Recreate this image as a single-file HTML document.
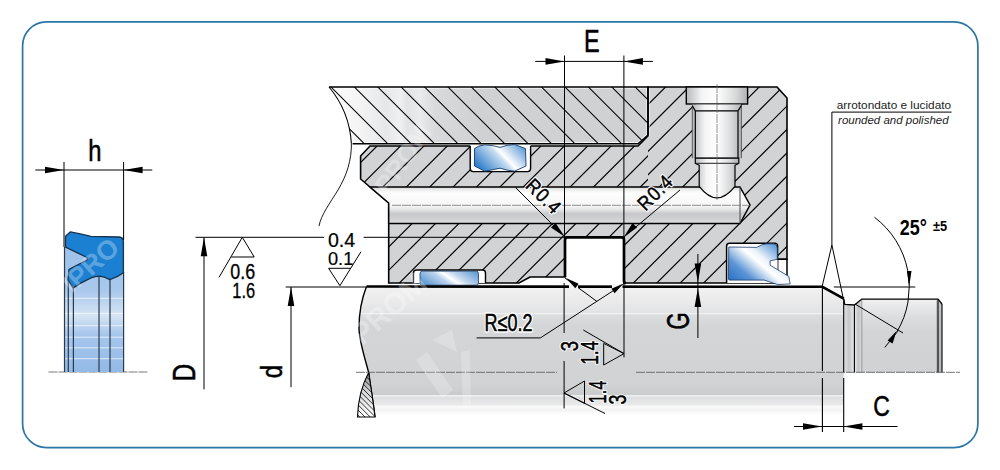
<!DOCTYPE html><html><head><meta charset="utf-8"><style>html,body{margin:0;padding:0;background:#fff;width:1000px;height:470px;overflow:hidden}svg{display:block}text{font-family:"Liberation Sans",sans-serif}</style></head><body>
<svg width="1000" height="470" viewBox="0 0 1000 470">
<defs>
<linearGradient id="gUpper" x1="329" y1="0" x2="480" y2="0" gradientUnits="userSpaceOnUse">
<stop offset="0" stop-color="#ffffff"/><stop offset="0.2" stop-color="#f4f4f5"/><stop offset="0.38" stop-color="#e6e7e8"/><stop offset="0.47" stop-color="#f0f0f1"/><stop offset="0.52" stop-color="#e2e3e4"/><stop offset="0.6" stop-color="#ebebec"/><stop offset="0.7" stop-color="#d9dadc"/><stop offset="1" stop-color="#cfd1d3"/></linearGradient>
<linearGradient id="gRod" x1="0" y1="286" x2="0" y2="420" gradientUnits="userSpaceOnUse">
<stop offset="0" stop-color="#f2f2f3"/><stop offset="0.09" stop-color="#ececed"/><stop offset="0.2" stop-color="#e2e3e4"/><stop offset="0.205" stop-color="#f2f2f3"/><stop offset="0.215" stop-color="#dcdddf"/><stop offset="0.3" stop-color="#d3d5d7"/><stop offset="0.74" stop-color="#d0d2d4"/><stop offset="0.81" stop-color="#c9cbcd"/><stop offset="0.818" stop-color="#f4f4f4"/><stop offset="0.83" stop-color="#dedfe0"/><stop offset="0.885" stop-color="#e9e9ea"/><stop offset="0.9" stop-color="#fbfbfb"/><stop offset="0.925" stop-color="#f3f3f3"/><stop offset="0.96" stop-color="#ffffff"/><stop offset="1" stop-color="#ffffff"/></linearGradient>
<linearGradient id="gLens" x1="0" y1="372" x2="0" y2="417" gradientUnits="userSpaceOnUse"><stop offset="0" stop-color="#8a8c8e"/><stop offset="0.45" stop-color="#d6d7d9"/><stop offset="1" stop-color="#ffffff"/></linearGradient>
<linearGradient id="gNeck" x1="843.4" y1="0" x2="862" y2="0" gradientUnits="userSpaceOnUse"><stop offset="0" stop-color="#e8e9ea"/><stop offset="0.3" stop-color="#9a9c9e"/><stop offset="0.55" stop-color="#d8d9db"/><stop offset="0.7" stop-color="#f4f4f4"/><stop offset="0.85" stop-color="#8f9193"/><stop offset="1" stop-color="#d0d1d3"/></linearGradient>
<linearGradient id="gHole" x1="0" y1="187" x2="0" y2="224" gradientUnits="userSpaceOnUse">
<stop offset="0" stop-color="#d4d5d6"/><stop offset="0.1" stop-color="#f2f2f2"/><stop offset="0.16" stop-color="#fdfdfd"/><stop offset="0.48" stop-color="#f7f7f7"/><stop offset="0.6" stop-color="#e8e8e9"/><stop offset="0.72" stop-color="#c8c9cb"/><stop offset="0.86" stop-color="#cfd0d2"/><stop offset="1" stop-color="#dedfe0"/></linearGradient>
<linearGradient id="gPort" x1="0" y1="0" x2="1" y2="0">
<stop offset="0" stop-color="#b8b9bb"/><stop offset="0.25" stop-color="#f4f4f4"/><stop offset="0.5" stop-color="#ffffff"/><stop offset="0.8" stop-color="#d8d9da"/><stop offset="1" stop-color="#b0b1b3"/></linearGradient>
<linearGradient id="gBlue" x1="0" y1="0" x2="1" y2="1">
<stop offset="0" stop-color="#2a6fc0"/><stop offset="0.45" stop-color="#ffffff"/><stop offset="0.55" stop-color="#e6eef8"/><stop offset="1" stop-color="#2a6fc0"/></linearGradient>
<linearGradient id="gSealLt" x1="0" y1="247" x2="0" y2="372" gradientUnits="userSpaceOnUse">
<stop offset="0" stop-color="#9ec1ea"/><stop offset="0.35" stop-color="#a9c8ec"/><stop offset="0.55" stop-color="#d6e4f4"/><stop offset="0.7" stop-color="#a6c6ec"/><stop offset="1" stop-color="#93b9e6"/></linearGradient>
<linearGradient id="gSmall" x1="0" y1="0" x2="1" y2="0">
<stop offset="0" stop-color="#c6c7c9"/><stop offset="0.3" stop-color="#eeeeef"/><stop offset="0.7" stop-color="#d5d6d8"/><stop offset="1" stop-color="#c0c1c3"/></linearGradient>
<linearGradient id="gSmallRod" x1="0" y1="299" x2="0" y2="372" gradientUnits="userSpaceOnUse">
<stop offset="0" stop-color="#f0f0f1"/><stop offset="0.25" stop-color="#dcdddf"/><stop offset="0.45" stop-color="#d2d4d6"/><stop offset="1" stop-color="#cfd1d3"/></linearGradient>
</defs>
<rect width="1000" height="470" fill="#fff"/>
<rect x="22.6" y="21.9" width="955.3" height="425.8" rx="24" ry="24" fill="none" stroke="#2a76a6" stroke-width="1.7"/>
<clipPath id="cBody"><path d="M370 146L638 146L648 136L648 87L777 87L787 98L787 259.3L777.6 259.3L777.6 283L624 283L624 237L565 237L565 277L530 277L519 283L388.7 283L388.7 223.6L388.7 203L370 187L360.6 179L360.6 156Z"/></clipPath>
<path d="M370 146L638 146L648 136L648 87L777 87L787 98L787 259.3L777.6 259.3L777.6 283L624 283L624 237L565 237L565 277L530 277L519 283L388.7 283L388.7 223.6L388.7 203L370 187L360.6 179L360.6 156Z" fill="#d1d3d5"/>
<clipPath id="cTopL"><rect x="350" y="80" width="298" height="107"/></clipPath><clipPath id="cRest"><path d="M648 80L800 80L800 300L350 300L350 187L648 187Z"/></clipPath>
<g clip-path="url(#cBody)"><path clip-path="url(#cTopL)" d="M350.0 56.1L665.0 -258.9M350.0 79.5L665.0 -235.5M350.0 102.9L665.0 -212.1M350.0 126.3L665.0 -188.7M350.0 149.7L665.0 -165.3M350.0 173.1L665.0 -141.9M350.0 196.5L665.0 -118.5M350.0 219.9L665.0 -95.1M350.0 243.3L665.0 -71.7M350.0 266.7L665.0 -48.3M350.0 290.1L665.0 -24.9M350.0 313.5L665.0 -1.5M350.0 336.9L665.0 21.9M350.0 360.3L665.0 45.3M350.0 383.7L665.0 68.7M350.0 407.1L665.0 92.1M350.0 430.5L665.0 115.5M350.0 453.9L665.0 138.9M350.0 477.3L665.0 162.3M350.0 500.7L665.0 185.7M350.0 524.1L665.0 209.1" stroke="#000" stroke-width="1.2" fill="none"/><path clip-path="url(#cRest)" d="M350.0 51.6L805.0 -403.4M350.0 75.0L805.0 -380.0M350.0 98.4L805.0 -356.6M350.0 121.8L805.0 -333.2M350.0 145.2L805.0 -309.8M350.0 168.6L805.0 -286.4M350.0 192.0L805.0 -263.0M350.0 215.4L805.0 -239.6M350.0 238.8L805.0 -216.2M350.0 262.2L805.0 -192.8M350.0 285.6L805.0 -169.4M350.0 309.0L805.0 -146.0M350.0 332.4L805.0 -122.6M350.0 355.8L805.0 -99.2M350.0 379.2L805.0 -75.8M350.0 402.6L805.0 -52.4M350.0 426.0L805.0 -29.0M350.0 449.4L805.0 -5.6M350.0 472.8L805.0 17.8M350.0 496.2L805.0 41.2M350.0 519.6L805.0 64.6M350.0 543.0L805.0 88.0M350.0 566.4L805.0 111.4M350.0 589.8L805.0 134.8M350.0 613.2L805.0 158.2M350.0 636.6L805.0 181.6M350.0 660.0L805.0 205.0M350.0 683.4L805.0 228.4M350.0 706.8L805.0 251.8M350.0 730.2L805.0 275.2M350.0 753.6L805.0 298.6M350.0 777.0L805.0 322.0" stroke="#000" stroke-width="1.2" fill="none"/></g>
<clipPath id="cUp"><path d="M329 87L648 87L648 135L638 143.8L351.4 143.8C350 120 340 100 329 87Z"/></clipPath>
<path d="M329 87L648 87L648 135L638 143.8L351.4 143.8C350 120 340 100 329 87Z" fill="url(#gUpper)" stroke="#fff" stroke-width="3"/>
<path clip-path="url(#cUp)" d="M320.0 169.6L660.0 509.6M320.0 146.2L660.0 486.2M320.0 122.8L660.0 462.8M320.0 99.4L660.0 439.4M320.0 76.0L660.0 416.0M320.0 52.6L660.0 392.6M320.0 29.2L660.0 369.2M320.0 5.8L660.0 345.8M320.0 -17.6L660.0 322.4M320.0 -41.0L660.0 299.0M320.0 -64.4L660.0 275.6M320.0 -87.8L660.0 252.2M320.0 -111.2L660.0 228.8M320.0 -134.6L660.0 205.4M320.0 -158.0L660.0 182.0M320.0 -181.4L660.0 158.6M320.0 -204.8L660.0 135.2M320.0 -228.2L660.0 111.8M320.0 -251.6L660.0 88.4M320.0 -275.0L660.0 65.0M320.0 -298.4L660.0 41.6" stroke="#000" stroke-width="1.05" fill="none"/>
<path d="M329 87L648 87L648 135L638 143.8L352.6 143.8" stroke="#000" stroke-width="1.6" fill="none"/>
<path d="M329 87C340 100 350 120 351.4 143.8" stroke="#000" stroke-width="1.1" fill="none"/>
<path d="M351.4 143.8C351.5 160 347 175 338 190C330 203 321 215 319 226" stroke="#000" stroke-width="0.9" fill="none"/>
<path d="M370 146L638 146L648 136L648 87L777 87L787 98L787 259.3L777.6 259.3L777.6 283L624 283L624 237L565 237L565 277L530 277L519 283L388.7 283L388.7 223.6L388.7 203L370 187L360.6 179L360.6 156Z" stroke="#000" stroke-width="1.6" fill="none"/>
<path d="M370 187L740 187L750 205L740 223.6L388.7 223.6L388.7 203Z" fill="url(#gHole)" stroke="#000" stroke-width="1.5"/>
<path d="M740 187L740 223.6" stroke="#444" stroke-width="1" fill="none"/>
<rect x="686.3" y="87" width="61.3" height="17" fill="url(#gPort)" stroke="#000" stroke-width="1.4"/>
<path d="M692.3 104.5L692.3 158.2L741.4 158.2L741.4 104.5Z" fill="url(#gPort)" stroke="none"/>
<path d="M692.3 105L692.3 158.2M741.4 105L741.4 158.2" stroke="#444" stroke-width="0.8" fill="none"/>
<path d="M695.3 110.8L695.3 158.2M738 110.8L738 158.2M692.3 105.7L695.3 110.8L738 110.8L741.4 105.7" stroke="#000" stroke-width="1.2" fill="none"/>
<path d="M695.3 158.2L695.3 163.3L699.2 165.3L699.2 186.3C706 195 712 197.8 717 197.8C722 197.8 728 195 735 186.3L735 165.3L738.8 163.3L738.8 158.2Z" fill="url(#gPort)" stroke="#000" stroke-width="1.2"/>
<path d="M695.3 158.2L738.8 158.2M695.3 163.3L738.8 163.3" stroke="#222" stroke-width="1" fill="none"/>
<path d="M470.2 145L470.2 168.6Q470.2 171.6 473.2 171.6L527.6 171.6Q530.6 171.6 530.6 168.6L530.6 145Z" fill="#fff" stroke="none"/>
<path d="M470.2 146L470.2 168.6Q470.2 171.6 473.2 171.6L527.6 171.6Q530.6 171.6 530.6 168.6L530.6 146" fill="none" stroke="#000" stroke-width="1.4"/>
<linearGradient id="gB1" gradientUnits="userSpaceOnUse" x1="487" y1="176" x2="525" y2="140"><stop offset="0" stop-color="#2f7fcc"/><stop offset="0.42" stop-color="#c5dbf0"/><stop offset="0.5" stop-color="#ffffff"/><stop offset="0.62" stop-color="#cfe0f2"/><stop offset="1" stop-color="#2f7fcc"/></linearGradient>
<path d="M474.5 148.6Q478 145.5 484.7 144.8Q492 145 500 147.4Q507 144.8 514.5 144.4L525.5 148.6L526 166L514.5 171.2Q507 170.5 500 168.2Q492 170 484.7 171.2L474.5 166Z" fill="url(#gB1)" stroke="#1a3c6a" stroke-width="0.9"/>
<path d="M413.5 283L413.5 273Q413.5 270 416.5 270L482.5 270Q485.5 270 485.5 273L485.5 283" fill="#fff" stroke="#000" stroke-width="1.4"/>
<linearGradient id="gB2" gradientUnits="userSpaceOnUse" x1="435" y1="300" x2="465" y2="256"><stop offset="0" stop-color="#2f7bc6"/><stop offset="0.4" stop-color="#b9d2ec"/><stop offset="0.5" stop-color="#ffffff"/><stop offset="0.6" stop-color="#c9dcf0"/><stop offset="1" stop-color="#2f7bc6"/></linearGradient>
<rect x="420" y="271.2" width="58.5" height="14" rx="2.2" fill="url(#gB2)" stroke="#1a3c6a" stroke-width="0.8"/>
<path d="M726.6 283L726.6 246Q726.6 243.2 729.5 243.2L775 243.2Q777.6 243.2 777.6 246L777.6 283Z" fill="#fff"/>
<path d="M726.6 283L726.6 246Q726.6 243.2 729.5 243.2L775 243.2Q777.6 243.2 777.6 246L777.6 259.3L787 259.3L787 276" fill="none" stroke="#000" stroke-width="1.5"/>
<linearGradient id="gB3" gradientUnits="userSpaceOnUse" x1="743" y1="291" x2="787" y2="239"><stop offset="0" stop-color="#2a72c4"/><stop offset="0.22" stop-color="#5a94d5"/><stop offset="0.47" stop-color="#ffffff"/><stop offset="0.56" stop-color="#eef4fa"/><stop offset="0.78" stop-color="#74a6dd"/><stop offset="1" stop-color="#2a72c4"/></linearGradient>
<path d="M728.8 247L756.7 247.4Q762 244 767 243.8L774 243.8Q777.3 244.5 777.3 248L777.3 259.3L770.1 260.8L770.1 265.2L788.8 276.4L790.2 283.9L777.6 284.6L764.2 280.1L729.2 280.1Q728.4 280 728.4 278Z" fill="url(#gB3)" stroke="#1a3c6a" stroke-width="0.8"/>
<path d="M565 277L565 240Q565 237.4 567.6 237.4L621.4 237.4Q624 237.4 624 240L624 283Z" fill="#fff"/>
<path d="M565 277L565 240Q565 237.4 567.6 237.4L621.4 237.4Q624 237.4 624 240L624 281Q624 283 626 283" fill="none" stroke="#000" stroke-width="2.7"/>
<path d="M366.5 286.5L822.4 286.8L843.7 298.7L843.7 420L375 420C373 400 370 385 368.7 372.6C364 355 359 340 359 328C359 312 362 298 366.5 286.5Z" fill="url(#gRod)"/>
<linearGradient id="gNeck2" x1="843.7" y1="0" x2="861.8" y2="0" gradientUnits="userSpaceOnUse"><stop offset="0" stop-color="#e2e3e4"/><stop offset="0.3" stop-color="#c6c7c9"/><stop offset="0.55" stop-color="#e6e7e8"/><stop offset="0.62" stop-color="#e8e8e9"/><stop offset="0.8" stop-color="#c2c3c5"/><stop offset="1" stop-color="#dcdddf"/></linearGradient>
<path d="M843.7 298.7L844.8 304.5L854.4 305L861.8 299.1L861.8 372.5L843.7 372.5Z" fill="url(#gNeck2)"/>
<path d="M861.8 299.1L938 299.1L942 304L942 372.5L861.8 372.5Z" fill="url(#gSmallRod)"/>
<path d="M936 300L942 304L942 372.5L936 372.5Z" fill="#a9abad" fill-opacity="0.6"/>
<path d="M843.7 299L843.7 372.5M854.4 305L854.4 372.5M938 299.5L938 372.5M942 304L942 372.5" stroke="#000" stroke-width="1.1" fill="none"/>
<path d="M861.8 300L861.8 372.5" stroke="#888" stroke-width="0.8" fill="none"/>
<path d="M843.7 298.7L844.8 304.5L854.4 305L861.8 299.1L938 299.1L942 304" stroke="#000" stroke-width="1.3" fill="none"/>
<path d="M822.4 287L822.4 371M822.4 378L822.4 432M843.7 378L843.7 432" stroke="#000" stroke-width="1.1" fill="none"/>
<path d="M366.5 286.5L822.4 286.8L843.7 298.7" stroke="#000" stroke-width="2.6" fill="none"/>
<path d="M366.5 286.5C362 298 359 312 359 328C359 340 364 355 368.7 372.6C370 385 373 400 375 417" stroke="#000" stroke-width="1.4" fill="none"/>
<clipPath id="cLens"><path d="M368.7 372.6C362 385 358 400 357.5 417L375 417C373 400 370.5 385 368.7 372.6Z"/></clipPath>
<path d="M368.7 372.6C362 385 358 400 357.5 417L375 417C373 400 370.5 385 368.7 372.6Z" fill="url(#gLens)"/>
<path clip-path="url(#cLens)" d="M345.0 423.0L385.0 463.0M345.0 417.8L385.0 457.8M345.0 412.6L385.0 452.6M345.0 407.4L385.0 447.4M345.0 402.2L385.0 442.2M345.0 397.0L385.0 437.0M345.0 391.8L385.0 431.8M345.0 386.6L385.0 426.6M345.0 381.4L385.0 421.4M345.0 376.2L385.0 416.2M345.0 371.0L385.0 411.0M345.0 365.8L385.0 405.8M345.0 360.6L385.0 400.6M345.0 355.4L385.0 395.4M345.0 350.2L385.0 390.2M345.0 345.0L385.0 385.0M345.0 339.8L385.0 379.8M345.0 334.6L385.0 374.6M345.0 329.4L385.0 369.4" stroke="#000" stroke-width="0.8" fill="none"/>
<path d="M368.7 372.6C362 385 358 400 357.5 417L375 417C373 400 370.5 385 368.7 372.6Z" fill="none" stroke="#000" stroke-width="1.1"/>
<path d="M356 372.3L557 372.3M636 372.3L960 372.3" stroke="#555" stroke-width="0.8" stroke-dasharray="9 1" fill="none"/>
<path d="M48.5 372L147.4 372" stroke="#555" stroke-width="0.8" stroke-dasharray="9 1" fill="none"/>
<path d="M392 205.3L750 205.3" stroke="#666" stroke-width="0.7" stroke-dasharray="9 1" fill="none"/>
<path d="M717 84L717 200" stroke="#666" stroke-width="0.7" stroke-dasharray="9 1" fill="none"/>
<rect x="64" y="247" width="60" height="125" fill="url(#gSealLt)"/>
<path d="M64 298.3L124 298.3" stroke="#ffffff" stroke-opacity="0.7" stroke-width="1"/>
<path d="M64 313.4L124 313.4" stroke="#ffffff" stroke-opacity="0.7" stroke-width="1"/>
<path d="M64 325.7L124 325.7" stroke="#ffffff" stroke-opacity="0.7" stroke-width="1"/>
<path d="M64 337.2L124 337.2" stroke="#ffffff" stroke-opacity="0.7" stroke-width="1"/>
<path d="M64 347.8L124 347.8" stroke="#ffffff" stroke-opacity="0.7" stroke-width="1"/>
<path d="M64 358.7L124 358.7" stroke="#ffffff" stroke-opacity="0.7" stroke-width="1"/>
<path d="M64.5 247L64.5 372M68.3 280L68.3 372M73.4 288L73.4 372M99 277L99 372M110 279L110 372M123.6 272L123.6 372" stroke="#2b3a4c" stroke-width="1.2" fill="none"/>
<path d="M65.5 236.2L70.3 231.9Q80 233.5 91 236.4L119 237Q123.4 237.5 123.4 241.5L123.4 272.8Q118 277 109.8 279.6Q104 276.5 99.6 276.2Q95 276.5 91 277.9Q82 282 73.2 288L68 280L69 269.4L86 260.5Q88.8 258.8 86.5 257.2L65.5 247.2Z" fill="#1b80d2" stroke="#16324f" stroke-width="1.3"/>
<path d="M35.3 170L152.3 170M64 162L64 247M123.6 162L123.6 240" stroke="#000" stroke-width="1" fill="none"/>
<path d="M64 170L45 166.7L45 173.3ZM123.6 170L142.6 166.7L142.6 173.3Z" fill="#000"/>
<path d="M535.2 61.4L652.9 61.4M564.5 55.5L564.5 240M623.9 55.5L623.9 240" stroke="#000" stroke-width="1" fill="none"/>
<path d="M564.5 61.4L545.5 58.1L545.5 64.7ZM623.9 61.4L642.9 58.1L642.9 64.7Z" fill="#000"/>
<path d="M564.1 283L564.1 333M564.1 361L564.1 408.4M624 283L624 357.4" stroke="#000" stroke-width="1" fill="none"/>
<path d="M195.5 237.3L324 237.3M363.6 237.3L565 237.3M204 237.3L204 389.4" stroke="#000" stroke-width="1" fill="none"/>
<path d="M204 237.3L200.7 256.3L207.3 256.3Z" fill="#000"/>
<path d="M285.7 287L366 287M291 287L291 387.2" stroke="#000" stroke-width="1" fill="none"/>
<path d="M291 287L287.7 306L294.3 306Z" fill="#000"/>
<path d="M219 277.4L242.3 237.3L254.2 257L231.3 257" stroke="#000" stroke-width="1" fill="none"/>
<path d="M328.6 268.3L350.8 268.3M328.6 268.3L339.9 285.7L361 251.7" stroke="#000" stroke-width="1" fill="none"/>
<path d="M697.9 254L697.9 338" stroke="#000" stroke-width="1" fill="none"/>
<path d="M697.9 282.5L694.6 263.5L701.1999999999999 263.5ZM697.9 288L694.6 307L701.1999999999999 307Z" fill="#000"/>
<path d="M794 426.5L897.6 426.5" stroke="#000" stroke-width="1" fill="none"/>
<path d="M822 426.5L803 423.2L803 429.8ZM843.4 426.5L862.4 423.2L862.4 429.8Z" fill="#000"/>
<path d="M833.8 287L915.3 287M855 304L903 333" stroke="#000" stroke-width="1" fill="none"/>
<path d="M874.5 217.3A87.3 87.3 0 0 1 896.8 332.0" stroke="#000" stroke-width="1" fill="none"/>
<path d="M909.3 286L906.9 271L911.5 271Z" fill="#000"/>
<path d="M897.6 331.5L884.8 347.4" stroke="#000" stroke-width="1"/><path d="M896.5 331L887.6 340.6L892.6 343.6Z" fill="#000"/>
<path d="M951.6 112.1L831.9 112.1L831.9 245L822 287M831.9 245L843.4 299" stroke="#000" stroke-width="1" fill="none"/>
<path d="M515.6 187.6L565 237" stroke="#000" stroke-width="1"/><path d="M565 237L551 227.5L555.5 223Z" fill="#000"/>
<path d="M680 190L623.9 237" stroke="#000" stroke-width="1"/><path d="M623.9 237L632.5 223L637 227.5Z" fill="#000"/>
<path d="M476.6 337.9L540.4 337.9L623.6 284M565 278L597 301.5" stroke="#000" stroke-width="1" fill="none"/>
<path d="M569 284.6L578 284.6L578 289.2L569 289.2ZM612 284.6L622.5 284.6L622.5 289.2L612 289.2Z" fill="#f2f2f3"/>
<path d="M566 278L575.35 288.27L578.65 283.73Z" fill="#000"/><path d="M623.6 283.5L614.6 293.3L611.4 288.7Z" fill="#000"/>
<path d="M583.3 330L624 353.6L603.7 365L603.7 343.4L624 353.6" stroke="#000" stroke-width="1" fill="none"/>
<path d="M605 413.5L564 393L584.5 381L584.5 403.3L564 393" stroke="#000" stroke-width="1" fill="none"/>
<g fill="#ffffff" fill-opacity="0.3" font-weight="bold" style="font-family:Liberation Sans,sans-serif">
<text transform="translate(72 294) rotate(-42)" font-size="27">IPRO</text>
<text transform="translate(356 352) rotate(-42)" font-size="30">IPROM</text>
<text transform="translate(388 196) rotate(-55)" font-size="26">PROM</text>
</g>
<path d="M416 360L427 352L453 390L442 398Z M461 352L470 350L471 405L463 408Z M432 340L452 330L457 352Z" fill="#ffffff" fill-opacity="0.22"/>
<text transform="matrix(0.8500 0 0 1.0500 88.20 160.80) rotate(0)" font-size="28" font-weight="normal" font-style="normal" fill="#000" stroke="#000" stroke-width="0.5">h</text>
<text transform="matrix(0.7824 0 0 1.0550 584.04 52.00) rotate(0)" font-size="30" font-weight="normal" font-style="normal" fill="#000" stroke="#000" stroke-width="0.5">E</text>
<text transform="matrix(0.8500 0 0 1.0737 873.35 416.20) rotate(0)" font-size="27" font-weight="normal" font-style="normal" fill="#000" stroke="#000" stroke-width="0.5">C</text>
<text transform="matrix(1.0947 0 0 0.8588 194.80 381.32) rotate(-90)" font-size="28" font-weight="normal" font-style="normal" fill="#000" stroke="#000" stroke-width="0.5">D</text>
<text transform="matrix(1.0400 0 0 0.8538 281.80 378.15) rotate(-90)" font-size="28" font-weight="normal" font-style="normal" fill="#000" stroke="#000" stroke-width="0.5">d</text>
<text transform="matrix(1.1000 0 0 0.7600 689.40 329.56) rotate(-90)" font-size="29" font-weight="normal" font-style="normal" fill="#000" stroke="#000" stroke-width="0.5">G</text>
<text transform="matrix(0.8519 0 0 1.0643 230.35 278.60) rotate(0)" font-size="21" font-weight="normal" font-style="normal" fill="#000" stroke="#000" stroke-width="0.3">0.6</text>
<text transform="matrix(0.7815 0 0 1.0571 232.32 298.20) rotate(0)" font-size="21" font-weight="normal" font-style="normal" fill="#000" stroke="#000" stroke-width="0.3">1.6</text>
<text transform="matrix(0.9808 0 0 0.9893 327.92 246.75) rotate(0)" font-size="20" font-weight="normal" font-style="normal" fill="#000" stroke="#000" stroke-width="0.2">0.4</text>
<text transform="matrix(0.9115 0 0 0.9536 327.99 265.05) rotate(0)" font-size="20" font-weight="normal" font-style="normal" fill="#000" stroke="#000" stroke-width="0.2">0.1</text>
<text transform="matrix(0.8574 0 0 1.1571 484.54 330.70) rotate(0)" font-size="21" font-weight="normal" font-style="normal" fill="#fff" stroke="#fff" stroke-width="3.0" stroke-linejoin="round">R&#8804;0.2</text>
<text transform="matrix(0.8574 0 0 1.1571 484.54 330.70) rotate(0)" font-size="21" font-weight="normal" font-style="normal" fill="#000" stroke="#000" stroke-width="0.5">R&#8804;0.2</text>
<text transform="matrix(0.8533 0 0 1.0857 899.85 234.90) rotate(0)" font-size="21" font-weight="bold" font-style="normal" fill="#000">25°</text>
<text transform="matrix(0.9133 0 0 1.0500 933.10 231.10) rotate(0)" font-size="14" font-weight="bold" font-style="normal" fill="#000">±5</text>
<text transform="matrix(1.0667 0 0 0.8364 578.00 351.24) rotate(-90)" font-size="22" font-weight="normal" font-style="normal" fill="#fff" stroke="#fff" stroke-width="2.5" stroke-linejoin="round">3</text>
<text transform="matrix(1.0667 0 0 0.8364 578.00 351.24) rotate(-90)" font-size="22" font-weight="normal" font-style="normal" fill="#000" stroke="#000" stroke-width="0.5">3</text>
<text transform="matrix(1.0467 0 0 0.7828 598.10 364.78) rotate(-90)" font-size="22" font-weight="normal" font-style="normal" fill="#fff" stroke="#fff" stroke-width="2.5" stroke-linejoin="round">1.4</text>
<text transform="matrix(1.0467 0 0 0.7828 598.10 364.78) rotate(-90)" font-size="22" font-weight="normal" font-style="normal" fill="#000" stroke="#000" stroke-width="0.5">1.4</text>
<text transform="matrix(1.0533 0 0 0.7483 606.10 403.45) rotate(-90)" font-size="22" font-weight="normal" font-style="normal" fill="#fff" stroke="#fff" stroke-width="2.5" stroke-linejoin="round">1.4</text>
<text transform="matrix(1.0533 0 0 0.7483 606.10 403.45) rotate(-90)" font-size="22" font-weight="normal" font-style="normal" fill="#000" stroke="#000" stroke-width="0.5">1.4</text>
<text transform="matrix(1.0533 0 0 0.8000 626.40 404.60) rotate(-90)" font-size="22" font-weight="normal" font-style="normal" fill="#fff" stroke="#fff" stroke-width="2.5" stroke-linejoin="round">3</text>
<text transform="matrix(1.0533 0 0 0.8000 626.40 404.60) rotate(-90)" font-size="22" font-weight="normal" font-style="normal" fill="#000" stroke="#000" stroke-width="0.5">3</text>
<text transform="matrix(0.9429 0 0 0.9429 524.59 186.84) rotate(45) scale(0.88 1)" letter-spacing="1.3" font-size="21" font-weight="normal" font-style="normal" fill="#fff" stroke="#fff" stroke-width="3.0" stroke-linejoin="round">R0.4</text>
<text transform="matrix(0.9429 0 0 0.9429 524.59 186.84) rotate(45) scale(0.88 1)" letter-spacing="1.3" font-size="21" font-weight="normal" font-style="normal" fill="#000" stroke="#000" stroke-width="0.5">R0.4</text>
<text transform="matrix(0.9447 0 0 0.9447 645.55 211.79) rotate(-45) scale(0.88 1)" letter-spacing="1.3" font-size="21" font-weight="normal" font-style="normal" fill="#fff" stroke="#fff" stroke-width="3.0" stroke-linejoin="round">R0.4</text>
<text transform="matrix(0.9447 0 0 0.9447 645.55 211.79) rotate(-45) scale(0.88 1)" letter-spacing="1.3" font-size="21" font-weight="normal" font-style="normal" fill="#000" stroke="#000" stroke-width="0.5">R0.4</text>
<text transform="matrix(1.0570 0 0 1.0125 836.74 109.00) rotate(0)" font-size="11.2" font-weight="normal" font-style="normal" fill="#222">arrotondato e lucidato</text>
<text transform="matrix(1.0269 0 0 0.9700 838.10 124.26) rotate(0)" font-size="11.2" font-weight="normal" font-style="italic" fill="#222">rounded and polished</text>
</svg></body></html>
